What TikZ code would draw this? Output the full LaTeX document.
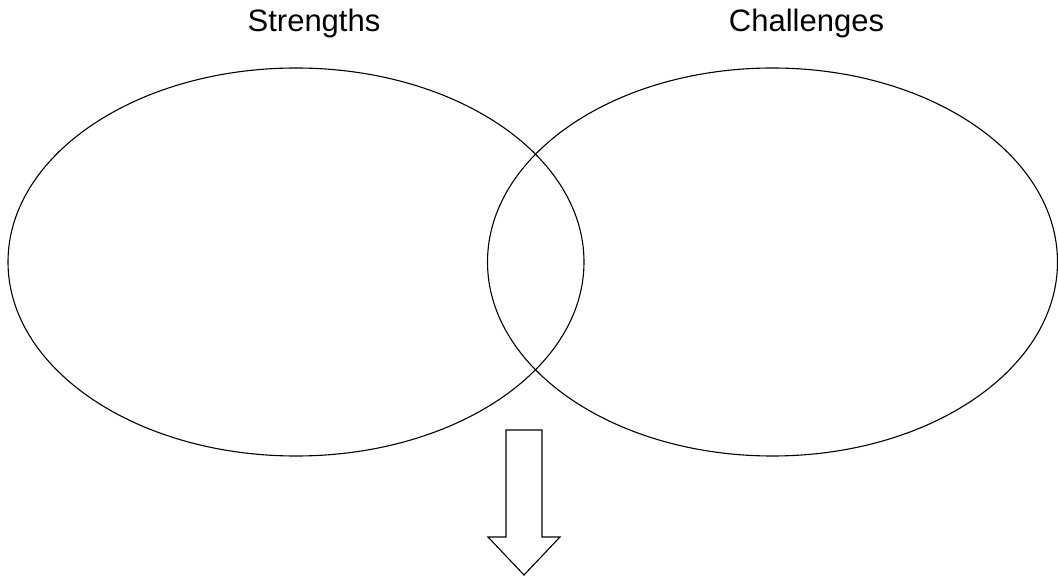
\documentclass[tikz,border=0pt]{standalone}
\usepackage{fontspec}
\setmainfont{Liberation Sans}
\usetikzlibrary{shapes.geometric}
\begin{document}
\begin{tikzpicture}[x=1pt,y=-1pt,
  venn/.style={draw=black,line width=1.1pt,ellipse,inner sep=0pt,minimum width=#1,minimum height=388pt},
  lbl/.style={font=\fontsize{31pt}{36pt}\selectfont,inner sep=0pt,anchor=base},
  blockarrow/.style={draw=black,line width=1.1pt,fill=white,line join=miter}]
\useasboundingbox (0,0) rectangle (1058,577);
\node[venn=576pt] (strengths) at (296,262) {};
\node[venn=570pt] (challenges) at (772.5,262) {};
\node[lbl] (tS) at (314,32) {Strengths};
\node[lbl] (tC) at (806.5,32) {Challenges};
\draw[blockarrow] (506,430) -- (542,430) -- (542,537) -- (560,537) -- (524,575)
  -- (488,537) -- (506,537) -- cycle;
\end{tikzpicture}
\end{document}
